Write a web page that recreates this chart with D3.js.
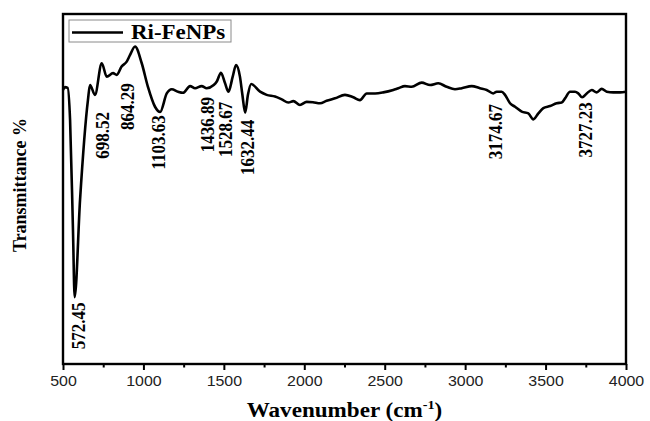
<!DOCTYPE html>
<html>
<head>
<meta charset="utf-8">
<script src="https://cdn.jsdelivr.net/npm/d3@7/dist/d3.min.js"></script>
<style>
  html, body { margin: 0; padding: 0; background: #fff; }
  svg { display: block; }
</style>
</head>
<body>
<svg id="chart" width="650" height="421"></svg>
<script>
// FTIR spectrum of Ri-FeNPs: wavenumber (cm-1) vs transmittance (arbitrary %)
const wavenumber = [
  500, 512, 529, 544, 562, 572.45, 606, 655, 668, 698.52, 741, 772, 811, 834, 864.29, 896, 917, 948,
  989, 1028, 1072, 1103.63, 1145, 1176, 1215, 1246, 1290, 1321, 1362, 1393, 1436.89, 1456, 1482,
  1507, 1528.67, 1555, 1576, 1600, 1615, 1632.44, 1650, 1670, 1725, 1766, 1818, 1860, 1901, 1932,
  1973, 2015, 2054, 2098, 2139, 2191, 2253, 2305, 2346, 2388, 2440, 2491, 2553, 2585, 2626, 2668,
  2730, 2782, 2833, 2885, 2937, 2979, 3041, 3092, 3134, 3174.67, 3196, 3227, 3248, 3279, 3310,
  3352, 3393, 3424, 3455, 3486, 3528, 3569, 3600, 3621, 3652, 3683, 3704, 3727.23, 3756, 3787,
  3818, 3849, 3880, 3921, 3963, 4000
];
const transmittance = [
  78.3, 79.1, 78.9, 69.7, 38.3, 19.1, 46.9, 75.4, 79.7, 76.9, 85.9, 82.1, 83.1, 82.6, 85.0, 86.4, 88.3, 90.7,
  86.0, 79.2, 73.5, 72.0, 77.3, 78.5, 77.8, 77.5, 79.4, 78.8, 79.4, 78.8, 79.7, 80.7, 83.2,
  80.3, 77.8, 82.1, 85.4, 82.1, 77.0, 71.8, 77.0, 80.0, 77.8, 76.9, 76.4, 75.6, 74.7, 75.1,
  74.0, 74.9, 74.8, 74.5, 75.2, 75.9, 76.9, 76.2, 75.4, 77.3, 77.3, 77.6, 78.3, 78.8, 79.4, 79.2,
  80.4, 79.7, 80.2, 79.2, 78.5, 78.8, 79.4, 78.8, 78.3, 77.3, 77.8, 77.8, 76.9, 74.5, 73.5,
  72.1, 71.6, 69.9, 71.6, 73.1, 73.7, 74.5, 74.7, 75.9, 77.8, 77.8, 77.3, 76.2, 77.3, 78.3,
  77.6, 78.6, 77.8, 77.6, 77.6, 77.8
];

// Annotated band positions
const bandLabels = ["572.45", "698.52", "864.29", "1103.63", "1436.89", "1528.67", "1632.44", "3174.67", "3727.23"];

const xTicks = [500, 1000, 1500, 2000, 2500, 3000, 3500, 4000];
const xMinorTicks = [750, 1250, 1750, 2250, 2750, 3250, 3750];
const seriesName = "Ri-FeNPs";

// label layout: top end of each rotated label (transmittance units) and small pixel nudges
const labelLayout = {
  top: [17.6, 72.0, 80.2, 71.1, 76.3, 74.9, 69.8, 74.3, 74.8],
  dx: [4, 8, 6, -2, -6.5, -3.5, 1.8, 1.8, 3]
};

const svg = d3.select("#chart");
const margin = { left: 63, right: 24, top: 14, bottom: 57 };
const W = 650, H = 421;
const x0 = margin.left, x1 = W - margin.right, y0 = H - margin.bottom, y1 = margin.top;
const serif = "Liberation Serif, Times New Roman, serif";
const stretch = 1.1; // horizontal widening of all lettering

const x = d3.scaleLinear().domain([500, 4000]).range([x0, x1]);
const y = d3.scaleLinear().domain([0, 100]).range([y0, y1]);

const data = wavenumber.map((w, i) => ({ w, t: transmittance[i] }));

// spectrum line
svg.append("path")
  .datum(data)
  .attr("fill", "none")
  .attr("stroke", "#000")
  .attr("stroke-width", 2.6)
  .attr("stroke-linejoin", "round")
  .attr("d", d3.line().x(d => x(d.w)).y(d => y(d.t)).curve(d3.curveMonotoneX));

// plot frame
svg.append("rect")
  .attr("x", x0).attr("y", y1)
  .attr("width", x1 - x0).attr("height", y0 - y1)
  .attr("fill", "none").attr("stroke", "#000").attr("stroke-width", 2.4);

// bottom axis: major ticks with labels, minor ticks without
const xAxis = svg.append("g").attr("transform", `translate(0,${y0})`)
  .call(d3.axisBottom(x).tickValues(xTicks).tickSize(6).tickPadding(6).tickFormat(d3.format("d")));
xAxis.select(".domain").remove();
xAxis.selectAll(".tick line").attr("stroke-width", 2);
xAxis.selectAll(".tick text")
  .attr("font-family", "Liberation Sans, Arial, sans-serif")
  .attr("font-size", 14.5).attr("fill", "#222")
  .attr("transform", `scale(${stretch},1)`)
  .attr("x", 0);

const xMinor = svg.append("g").attr("transform", `translate(0,${y0})`)
  .call(d3.axisBottom(x).tickValues(xMinorTicks).tickSize(3.5).tickFormat(""));
xMinor.select(".domain").remove();
xMinor.selectAll(".tick line").attr("stroke-width", 2);

// axis titles
const title = svg.append("text")
  .attr("transform", `translate(${(x0 + x1) / 2},417) scale(${stretch},1)`)
  .attr("text-anchor", "middle")
  .attr("font-family", serif)
  .attr("font-weight", "bold").attr("font-size", 21);
title.append("tspan").text("Wavenumber (cm");
title.append("tspan").attr("font-size", 13).attr("dy", -8).text("-1");
title.append("tspan").attr("dy", 8).text(")");

svg.append("text")
  .attr("transform", `translate(26,185) scale(${stretch},1) rotate(-90)`)
  .attr("text-anchor", "middle")
  .attr("font-family", serif)
  .attr("font-weight", "bold").attr("font-size", 18)
  .text("Transmittance %");

// band annotations, rotated, reading upward
svg.append("g").selectAll("text")
  .data(bandLabels)
  .join("text")
  .attr("transform", (d, i) =>
    `translate(${x(+d) + labelLayout.dx[i]},${y(labelLayout.top[i])}) scale(${stretch},1) rotate(-90)`)
  .attr("text-anchor", "end")
  .attr("dy", "0.35em")
  .attr("font-family", serif)
  .attr("font-weight", "bold").attr("font-size", 17)
  .text(d => d);

// legend
const lg = svg.append("g");
lg.append("rect")
  .attr("x", 69).attr("y", 20).attr("width", 162).attr("height", 22)
  .attr("fill", "#fff").attr("stroke", "#8a8a8a").attr("stroke-width", 1);
lg.append("line")
  .attr("x1", 72).attr("x2", 123).attr("y1", 32.5).attr("y2", 32.5)
  .attr("stroke", "#000").attr("stroke-width", 2.6);
lg.append("text")
  .attr("transform", `translate(131,39) scale(1.12,1)`)
  .attr("font-family", serif)
  .attr("font-weight", "bold").attr("font-size", 20.5)
  .text(seriesName);
</script>
</body>
</html>
